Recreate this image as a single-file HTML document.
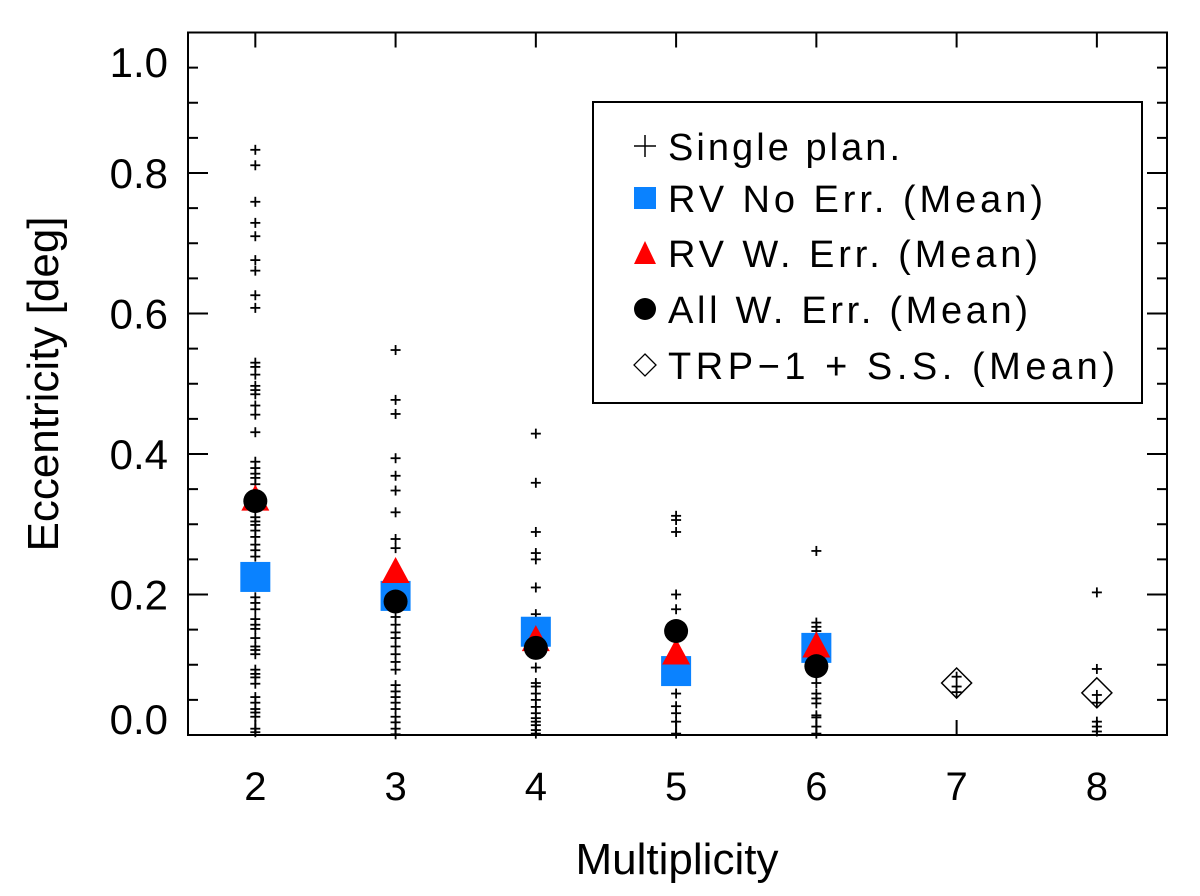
<!DOCTYPE html>
<html><head><meta charset="utf-8"><style>
html,body{margin:0;padding:0;background:#fff;}
svg text{font-family:"Liberation Sans","DejaVu Sans",sans-serif;}
</style></head><body>
<svg id="chart" width="1200" height="891" viewBox="0 0 1200 891" xmlns="http://www.w3.org/2000/svg"></svg>
<script>
const multiplicities=[2,3,4,5,6,7,8];
const singleX=[2,3,4,5,6,7,8];
const single2=[0.833,0.811,0.759,0.729,0.710,0.676,0.661,0.626,0.608,0.530,0.524,0.513,0.497,0.491,0.485,0.469,0.456,0.431,0.389,0.380,0.372,0.366,0.357,0.310,0.304,0.299,0.291,0.282,0.271,0.263,0.254,0.196,0.188,0.179,0.165,0.157,0.151,0.138,0.126,0.121,0.115,0.093,0.087,0.082,0.073,0.054,0.046,0.037,0.032,0.026,0.009,0.004];
const single3=[0.548,0.477,0.457,0.394,0.369,0.348,0.317,0.279,0.266,0.168,0.157,0.146,0.138,0.126,0.115,0.104,0.093,0.071,0.062,0.054,0.046,0.037,0.026,0.018,0.009,0.001];
const single4=[0.429,0.359,0.289,0.259,0.250,0.210,0.172,0.096,0.074,0.069,0.059,0.050,0.040,0.031,0.024,0.019,0.014,0.007,0.002];
const single5=[0.312,0.306,0.289,0.200,0.179,0.059,0.041,0.031,0.019,0.002];
const single6=[0.262,0.160,0.154,0.148,0.100,0.074,0.059,0.052,0.045,0.028,0.025,0.012,0.002];
const single7=[0.083,0.069,0.061];
const single8=[0.203,0.094,0.057,0.046,0.019,0.012,0.005];
const rvNoErrX=[2,3,4,5,6];
const rvNoErr=[0.225,0.198,0.147,0.091,0.124];
const rvWErrX=[2,3,4,5,6];
const rvWErr=[0.335,0.232,0.135,0.116,0.126];
const allWErrX=[2,3,4,5,6];
const allWErr=[0.333,0.190,0.124,0.148,0.098];
const trpX=[7,8];
const trp=[0.074,0.060];
const yTickLabels=["0.0","0.2","0.4","0.6","0.8","1.0"];
const xTickLabels=["2","3","4","5","6","7","8"];

const L=188,R=1167,T=32.5,B=735;
const X0=1.52,X1=8.5,Y0=0,Y1=1.0;
const xs=v=>L+(v-X0)/(X1-X0)*(R-L);
const ys=v=>B-(v-Y0)/(Y1-Y0)*(B-T);
const svg=document.getElementById('chart');
const NS='http://www.w3.org/2000/svg';
function mk(tag,attrs,parent){const e=document.createElementNS(NS,tag);for(const k in attrs)e.setAttribute(k,attrs[k]);(parent||svg).appendChild(e);return e;}

const box=mk('rect',{x:L,y:T,width:R-L,height:B-T,fill:'none',stroke:'#000','stroke-width':2});



for(let i=0;i<=20;i++){
  const v=i*0.05,y=ys(v),major=(i%4===0);
  const len=major?20:10;
  const t1=mk('line',{x1:L,x2:L+len,y1:y,y2:y,stroke:'#000','stroke-width':2});
  
  
  const t2=mk('line',{x1:R,x2:R-len,y1:y,y2:y,stroke:'#000','stroke-width':2});
  
  
}
yTickLabels.forEach((lab,i)=>{
  const v=parseFloat(lab);let y=ys(v);y=Math.max(62,Math.min(719,y));
  const t=mk('text',{x:168,y:y+15,'text-anchor':'end','font-size':42,fill:'#000'});
  t.textContent=lab;
  
  
});
xTickLabels.forEach((lab,i)=>{
  const x=xs(parseFloat(lab));
  const a=mk('line',{x1:x,x2:x,y1:B,y2:B-15,stroke:'#000','stroke-width':2});
  
  
  const b=mk('line',{x1:x,x2:x,y1:T,y2:T+15,stroke:'#000','stroke-width':2});
  
  
  const t=mk('text',{x:x,y:800,'text-anchor':'middle','font-size':40,fill:'#000'});
  t.textContent=lab;
  
  
});
const xt=mk('text',{x:677,y:874,'text-anchor':'middle','font-size':44,fill:'#000'});
xt.textContent='Multiplicity';


const yt=mk('text',{x:0,y:0,'text-anchor':'middle','font-size':44,fill:'#000',transform:'translate(58,384) rotate(-90)'});
yt.textContent='Eccentricity [deg]';



function plus(x,y,s,sw,name){
  const g=mk('g',{stroke:'#000','stroke-width':sw});
  
  
  mk('line',{x1:x-s,x2:x+s,y1:y,y2:y},g);
  mk('line',{x1:x,x2:x,y1:y-s,y2:y+s},g);
  return g;
}
const singles=[single2,single3,single4,single5,single6,single7,single8];
singles.forEach((arr,i)=>{arr.forEach(v=>{plus(xs(singleX[i]),ys(v),5,1.8,'single-planet-point');});});

function square(x,y,name){const r=mk('rect',{x:x-15,y:y-15,width:30,height:30,fill:'#0a82ff'});}
function tri(x,y,name){const p=mk('polygon',{points:`${x},${y-15} ${x+14},${y+11} ${x-14},${y+11}`,fill:'#ff0000'});}
function circ(x,y,name){const c=mk('circle',{cx:x,cy:y,r:12,fill:'#000'});}
function diam(x,y,name){const p=mk('polygon',{points:`${x},${y-15} ${x+15},${y} ${x},${y+15} ${x-15},${y}`,fill:'none',stroke:'#000','stroke-width':1.5});}

rvNoErr.forEach((v,i)=>square(xs(rvNoErrX[i]),ys(v),'rv-no-err-mean'));
rvWErr.forEach((v,i)=>tri(xs(rvWErrX[i]),ys(v),'rv-w-err-mean'));
allWErr.forEach((v,i)=>circ(xs(allWErrX[i]),ys(v),'all-w-err-mean'));
trp.forEach((v,i)=>diam(xs(trpX[i]),ys(v),'trp1-ss-mean'));

const lg=mk('g',{});


mk('rect',{x:593,y:102,width:549,height:301,fill:'#fff',stroke:'#000','stroke-width':2},lg);
const entries=['Single plan.','RV No Err. (Mean)','RV W. Err. (Mean)','All W. Err. (Mean)','TRP\u22121 + S.S. (Mean)'];
const ly=[146,198,253,309,365];
const lw=[232,375,370,360,447];
entries.forEach((txt,i)=>{
  const g=mk('g',{},lg);
  
  
  const cx=645,cy=ly[i];
  if(i===0){mk('line',{x1:cx-11,x2:cx+11,y1:cy,y2:cy,stroke:'#000','stroke-width':1.5},g);mk('line',{x1:cx,x2:cx,y1:cy-11,y2:cy+11,stroke:'#000','stroke-width':1.5},g);}
  if(i===1)mk('rect',{x:cx-11,y:cy-11,width:22,height:22,fill:'#0a82ff'},g);
  if(i===2)mk('polygon',{points:`${cx},${cy-12} ${cx+11},${cy+11} ${cx-11},${cy+11}`,fill:'#ff0000'},g);
  if(i===3)mk('circle',{cx:cx,cy:cy,r:11,fill:'#000'},g);
  if(i===4)mk('polygon',{points:`${cx},${cy-11} ${cx+11},${cy} ${cx},${cy+11} ${cx-11},${cy}`,fill:'none',stroke:'#000','stroke-width':1.3},g);
  const t=mk('text',{x:668,y:cy+14,'font-size':38,fill:'#000',textLength:lw[i],lengthAdjust:'spacing'},g);
  t.textContent=txt;
});
</script>
</body></html>
